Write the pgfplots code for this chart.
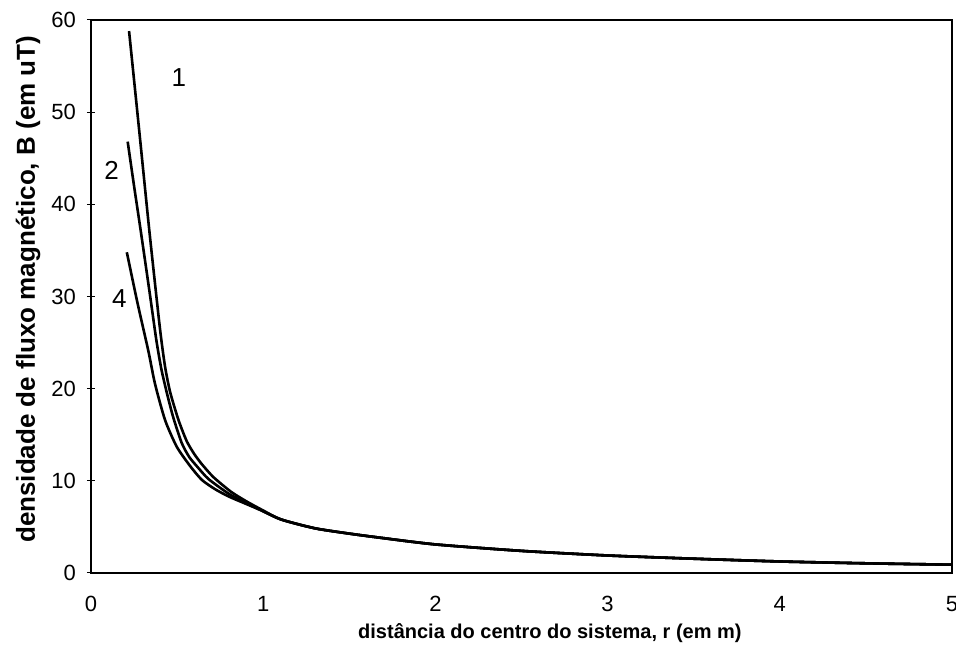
\documentclass[border=0pt]{standalone}
\usepackage{fontspec}
\setmainfont{Liberation Sans}
\setsansfont{Liberation Sans}
\usepackage{pgfplots}
\pgfplotsset{compat=1.18}
\begin{document}
\begin{tikzpicture}
\begin{axis}[
  scale only axis,
  width=430.5pt, height=276.5pt,
  xmin=0, xmax=5, ymin=0, ymax=60,
  xtick={0,1,2,3,4,5}, ytick={0,10,20,30,40,50,60},
  xtick pos=bottom, ytick pos=left,
  x tick style={draw=none},
  y tick style={black, line width=0.5pt},
  tick align=center, major tick length=4pt,
  axis line style={line width=0.7pt},
  /pgf/number format/assume math mode=true,
  ticklabel style={font=\fontsize{11}{13}\selectfont},
  xticklabel style={yshift=-6pt},
  yticklabel style={xshift=-2pt},
  xlabel={\textbf{distância do centro do sistema, r (em m)}},
  ylabel={\textbf{densidade de fluxo magnético, B (em uT)}},
  xlabel style={font=\fontsize{10}{12}\selectfont, at={(axis description cs:0.533,-0.108)}, anchor=center},
  ylabel style={font=\fontsize{13}{15}\selectfont, at={(axis description cs:-0.0732,0.513)}, anchor=center},
  no markers,
  clip=false,
]
\addplot[black, line width=1.3pt, smooth, tension=0.4] coordinates {(0.221,58.8)(0.28,48)(0.339,37.1)(0.40,26.6)(0.43,22.4)(0.46,19.6)(0.508,16.6)(0.556,14.3)(0.60,12.9)(0.644,11.8)(0.711,10.4)(0.814,8.8)(0.90,7.8)(0.988,6.9)(1.105,5.8)(1.3,4.85)(1.49,4.3)(1.67,3.85)(2,3.1)(2.5,2.4)(3,1.9)(3.5,1.55)(4,1.25)(4.5,1.05)(5,0.9)};
\addplot[black, line width=1.3pt, smooth, tension=0.4] coordinates {(0.213,46.8)(0.25,42)(0.289,37.1)(0.34,30.5)(0.38,25.2)(0.41,22.0)(0.445,19.2)(0.479,16.8)(0.527,14.1)(0.57,12.6)(0.614,11.6)(0.682,10.2)(0.8,8.6)(0.90,7.6)(0.988,6.8)(1.105,5.8)(1.3,4.85)(1.49,4.3)(1.67,3.85)(2,3.1)(2.5,2.4)(3,1.9)(3.5,1.55)(4,1.25)(4.5,1.05)(5,0.9)};
\addplot[black, line width=1.3pt, smooth, tension=0.4] coordinates {(0.208,34.8)(0.27,29.3)(0.333,24.1)(0.372,20.5)(0.43,16.6)(0.498,13.7)(0.576,11.6)(0.644,10.1)(0.72,9.1)(0.8,8.3)(0.90,7.5)(0.988,6.8)(1.105,5.8)(1.3,4.85)(1.49,4.3)(1.67,3.85)(2,3.1)(2.5,2.4)(3,1.9)(3.5,1.55)(4,1.25)(4.5,1.05)(5,0.9)};
\node[font=\fontsize{13}{15}\selectfont] at (axis cs:0.51,53.8) {1};
\node[font=\fontsize{13}{15}\selectfont] at (axis cs:0.12,43.7) {2};
\node[font=\fontsize{13}{15}\selectfont] at (axis cs:0.165,29.8) {4};
\end{axis}
\pgfresetboundingbox
\useasboundingbox ([shift={(-45.5pt,-44.5pt)}]current axis.south west) rectangle ([shift={(2pt,10pt)}]current axis.north east);
\end{tikzpicture}
\end{document}
